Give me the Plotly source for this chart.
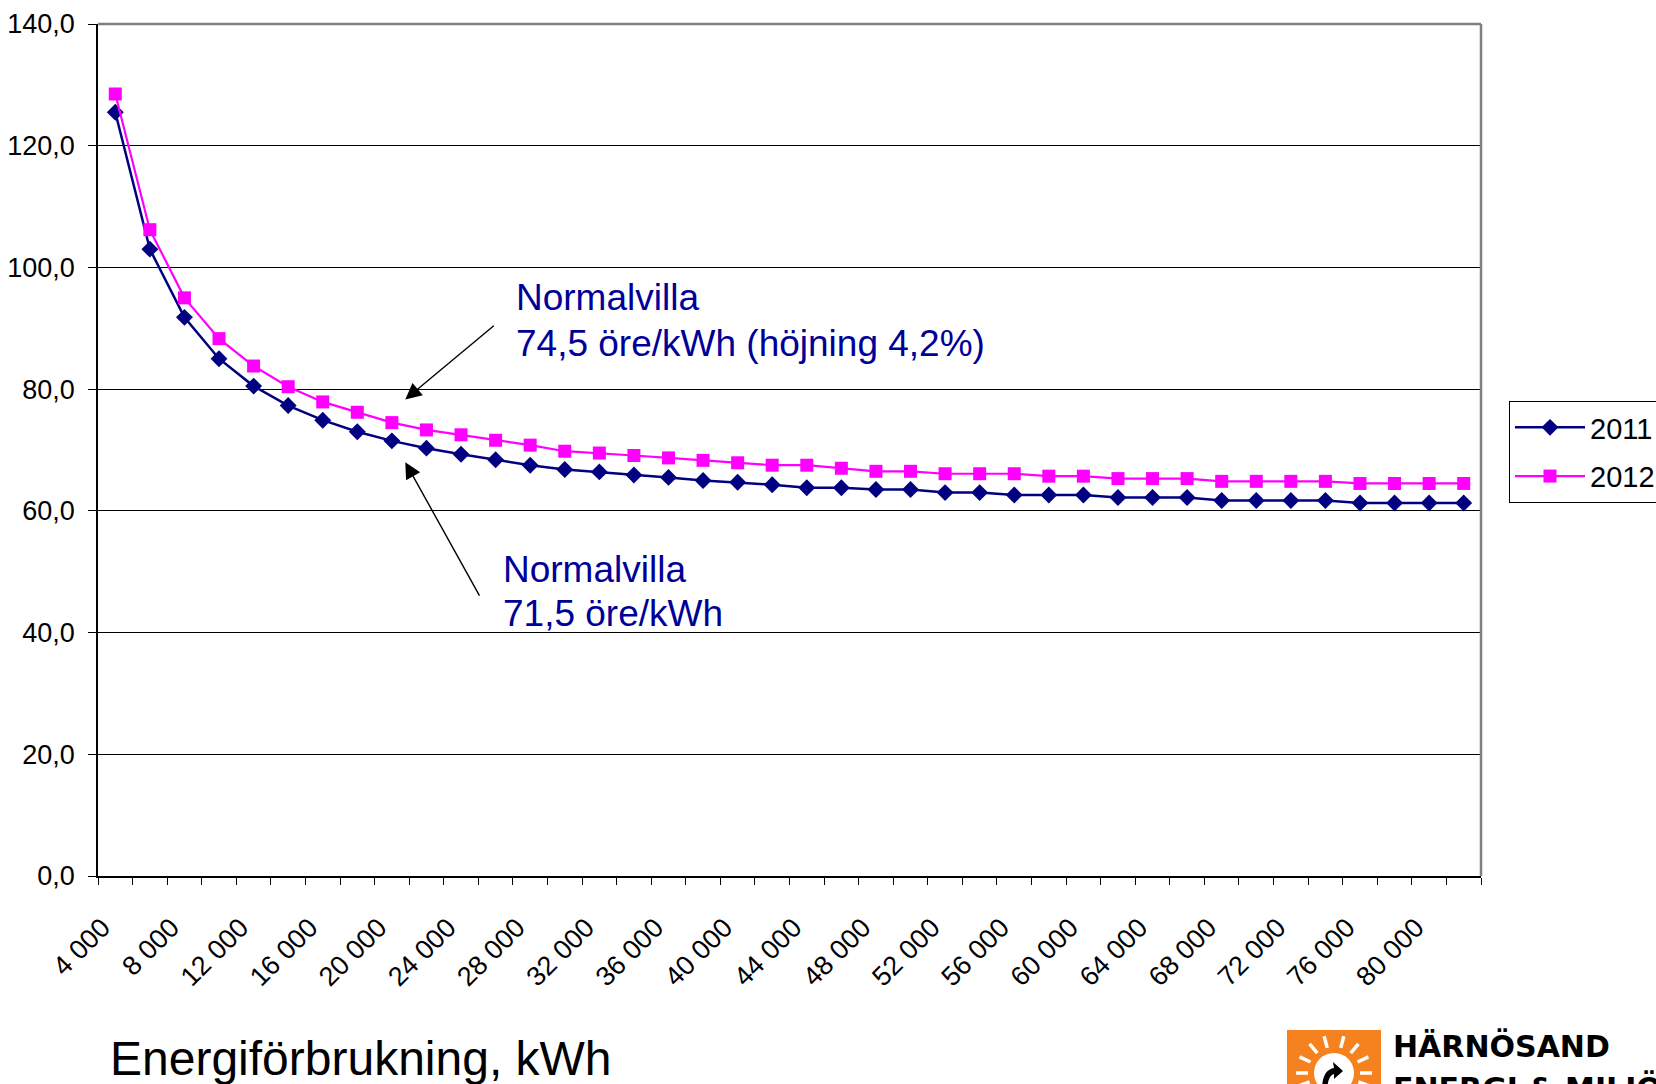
import math
import plotly.graph_objects as go

# ---- data -------------------------------------------------------------
kwh = [4000, 6000, 8000, 10000, 12000, 14000, 16000, 18000, 20000, 22000,
       24000, 26000, 28000, 30000, 32000, 34000, 36000, 38000, 40000, 42000,
       44000, 46000, 48000, 50000, 52000, 54000, 56000, 58000, 60000, 62000,
       64000, 66000, 68000, 70000, 72000, 74000, 76000, 78000, 80000, 82000]

price_2011 = [125.5, 103.0, 91.8, 85.0, 80.5, 77.3, 74.9, 73.0, 71.5, 70.3,
              69.3, 68.4, 67.5, 66.8, 66.4, 65.9, 65.5, 65.0, 64.7, 64.3,
              63.8, 63.8, 63.5, 63.5, 63.0, 63.0, 62.6, 62.6, 62.6, 62.2,
              62.2, 62.2, 61.7, 61.7, 61.7, 61.7, 61.3, 61.3, 61.3, 61.3]

price_2012 = [128.5, 106.2, 95.0, 88.3, 83.8, 80.4, 77.9, 76.2, 74.5, 73.3,
              72.5, 71.6, 70.8, 69.8, 69.5, 69.1, 68.7, 68.3, 67.9, 67.5,
              67.5, 67.0, 66.5, 66.5, 66.1, 66.1, 66.1, 65.7, 65.7, 65.3,
              65.3, 65.3, 64.85, 64.85, 64.85, 64.85, 64.5, 64.5, 64.5, 64.5]

series_names = ["2011", "2012"]

x_tick_values = [4000, 8000, 12000, 16000, 20000, 24000, 28000, 32000, 36000, 40000,
                 44000, 48000, 52000, 56000, 60000, 64000, 68000, 72000, 76000, 80000]
x_tick_labels = ["4 000", "8 000", "12 000", "16 000", "20 000", "24 000", "28 000",
                 "32 000", "36 000", "40 000", "44 000", "48 000", "52 000", "56 000",
                 "60 000", "64 000", "68 000", "72 000", "76 000", "80 000"]

y_tick_values = [0, 20, 40, 60, 80, 100, 120, 140]
y_tick_labels = ["0,0", "20,0", "40,0", "60,0", "80,0", "100,0", "120,0", "140,0"]

# category boundaries (Excel-style tick marks between categories)
half = (kwh[1] - kwh[0]) / 2
boundaries = [kwh[0] - half] + [(a + b) / 2 for a, b in zip(kwh[:-1], kwh[1:])] + [kwh[-1] + half]

FONT = "Liberation Sans, Arial, Helvetica, sans-serif"
NAVY = "#000080"
MAGENTA = "#FF00FF"
TEXTBLUE = "#000099"

W, H = 1656, 1084
ML, MR, MT, MB = 98, 175, 24, 208
PW, PH = W - ML - MR, H - MT - MB


def px(xpix):
    return (xpix - ML) / PW


def py(ypix):
    return (H - MB - ypix) / PH


fig = go.Figure()
fig.add_trace(go.Scatter(
    x=kwh, y=price_2011, name=series_names[0], mode="lines+markers",
    line=dict(color=NAVY, width=2.5),
    marker=dict(symbol="diamond", size=13, color=NAVY, line=dict(width=0)),
    legendgroup="a",
))
fig.add_trace(go.Scatter(
    x=kwh, y=price_2012, name=series_names[1], mode="lines+markers",
    line=dict(color=MAGENTA, width=2.2),
    marker=dict(symbol="square", size=13, color=MAGENTA, line=dict(width=0)),
    legendgroup="b",
))

fig.update_layout(
    width=W, height=H,
    margin=dict(l=ML, r=MR, t=MT, b=MB, autoexpand=False),
    paper_bgcolor="white", plot_bgcolor="white",
    font=dict(family=FONT, color="black", size=26),
    showlegend=True,
    legend=dict(
        x=px(1509), y=py(401), xanchor="left", yanchor="top",
        bordercolor="black", borderwidth=1, bgcolor="white",
        font=dict(family=FONT, size=29, color="black"),
        itemwidth=70, tracegroupgap=8, traceorder="grouped",
    ),
)

fig.update_xaxes(
    type="linear", range=[boundaries[0], boundaries[-1]],
    showgrid=False, zeroline=False,
    showline=True, linecolor="black", linewidth=2,
    tickmode="array", tickvals=x_tick_values, ticktext=x_tick_labels,
    ticks="outside", ticklen=7, tickcolor="rgba(0,0,0,0)",
    tickangle=-45, ticklabelshift=-13, ticklabelstandoff=16,
    tickfont=dict(family=FONT, size=27, color="black"),
    minor=dict(tickmode="array", tickvals=boundaries, ticks="outside",
               ticklen=7, tickwidth=1, tickcolor="black", showgrid=False),
)
fig.update_yaxes(
    range=[0, 140], zeroline=False,
    showline=True, linecolor="black", linewidth=1.5,
    showgrid=True, gridcolor="black", gridwidth=1,
    tickmode="array", tickvals=y_tick_values, ticktext=y_tick_labels,
    ticks="outside", ticklen=8, tickwidth=1, tickcolor="black",
    ticklabelstandoff=8,
    tickfont=dict(family=FONT, size=27, color="black"),
)

# grey top and right plot-area border
fig.add_shape(type="line", xref="paper", yref="paper", x0=0, x1=1, y0=1, y1=1,
              line=dict(color="#808080", width=2.5), layer="above")
fig.add_shape(type="line", xref="paper", yref="paper", x0=1, x1=1, y0=0, y1=1,
              line=dict(color="#808080", width=2.5), layer="above")

# text annotations
texts = [
    ("Normalvilla", px(514), py(297.8)),
    ("74,5 öre/kWh (höjning 4,2%)", px(514), py(343.2)),
    ("Normalvilla", px(500.6), py(569.2)),
    ("71,5 öre/kWh", px(500.6), py(613.6)),
]
for t, xp, yp in texts:
    fig.add_annotation(text=t, xref="paper", yref="paper", x=xp, y=yp,
                       xanchor="left", yanchor="middle", showarrow=False,
                       font=dict(family=FONT, size=37, color=TEXTBLUE))

# arrows pointing at the curves near 20 000 kWh
fig.add_annotation(x=20776, y=78.3, xref="x", yref="y", text="", showarrow=True,
                   ax=90, ay=-75, arrowhead=2, arrowsize=2.3, arrowwidth=1.4,
                   arrowcolor="black", standoff=0)
fig.add_annotation(x=20776, y=68.0, xref="x", yref="y", text="", showarrow=True,
                   ax=75, ay=135, arrowhead=2, arrowsize=2.3, arrowwidth=1.4,
                   arrowcolor="black", standoff=0)

# caption below the axis
fig.add_annotation(text="Energiförbrukning, kWh", xref="paper", yref="paper",
                   x=px(108), y=py(1058), xanchor="left", yanchor="middle",
                   showarrow=False, font=dict(family=FONT, size=48, color="black"))

# logo (cropped at the bottom edge)
ORANGE = "#F5821F"
fig.add_shape(type="rect", xref="paper", yref="paper",
              x0=px(1287), x1=px(1381), y0=py(1100), y1=py(1030),
              line=dict(width=0), fillcolor=ORANGE, layer="above")
cx, cy, r = 1334, 1073, 20
for ang in [0, 25, 50, 75, 105, 130, 155, 180, 200, -20]:
    a = math.radians(ang)
    x0p, y0p = cx + 26 * math.cos(a), cy - 26 * math.sin(a)
    x1p, y1p = cx + 38 * math.cos(a), cy - 38 * math.sin(a)
    fig.add_shape(type="line", xref="paper", yref="paper",
                  x0=px(x0p), y0=py(y0p), x1=px(x1p), y1=py(y1p),
                  line=dict(color="white", width=3.5), layer="above")
fig.add_shape(type="circle", xref="paper", yref="paper",
              x0=px(cx - r), x1=px(cx + r), y0=py(cy + r), y1=py(cy - r),
              line=dict(width=0), fillcolor="white", layer="above")
arrow_path = "M {} {} Q {} {} {} {} L {} {} L {} {} L {} {} L {} {} Q {} {} {} {} Z".format(
    px(1322), py(1090), px(1322), py(1070), px(1334), py(1068),
    px(1333), py(1062), px(1343), py(1071), px(1334), py(1079),
    px(1334), py(1074), px(1328), py(1075), px(1327), py(1090))
fig.add_shape(type="path", xref="paper", yref="paper", path=arrow_path,
              line=dict(width=0), fillcolor="black", layer="above")

fig.add_annotation(text="HÄRNÖSAND", xref="paper", yref="paper",
                   x=px(1391), y=py(1046), xanchor="left", yanchor="middle",
                   showarrow=False,
                   font=dict(family="DejaVu Sans", size=30, color="black", weight="bold"))
fig.add_annotation(text="ENERGI & MILJÖ", xref="paper", yref="paper",
                   x=px(1391), y=py(1088), xanchor="left", yanchor="middle",
                   showarrow=False,
                   font=dict(family="DejaVu Sans", size=30, color="black", weight="bold"))

fig.write_html("out.html", config={"displayModeBar": False},
               post_script="document.body.style.margin='0';")
